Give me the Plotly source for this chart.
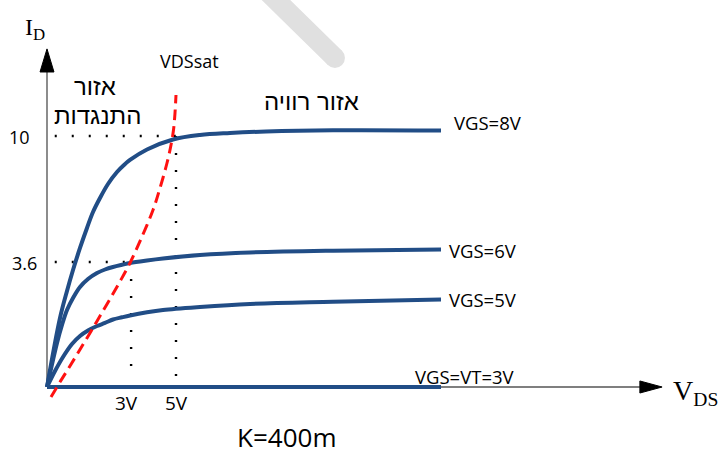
import plotly.graph_objects as go

# ---- data (diagram units: x ~ VDS, y ~ ID, schematic scale) ----
vgs8_x = [0, 0.504, 0.775, 1.008, 1.279, 1.550, 1.783, 2.054, 2.364, 2.713, 2.984, 3.217,
          3.876, 4.884, 5.930, 7.093, 8.488, 11.085, 15.271]
vgs8_y = [0, 2.749, 3.825, 4.661, 5.538, 6.335, 6.972, 7.530, 8.088, 8.566, 8.845, 9.044,
          9.462, 9.861, 10.040, 10.120, 10.179, 10.227, 10.219]

vgs6_x = [0, 0.388, 0.581, 0.775, 1.008, 1.279, 1.589, 1.938, 2.248, 2.558, 2.907, 3.217,
          3.876, 4.496, 5.930, 7.868, 11.085, 15.271]
vgs6_y = [0, 1.753, 2.470, 3.068, 3.546, 3.984, 4.303, 4.542, 4.681, 4.781, 4.869, 4.940,
          5.040, 5.120, 5.259, 5.359, 5.430, 5.478]

vgs5_x = [0, 0.310, 0.620, 0.969, 1.279, 1.589, 1.938, 2.248, 2.558, 2.907, 3.217, 3.876,
          4.496, 5.930, 7.868, 11.085, 15.271]
vgs5_y = [0, 0.637, 1.195, 1.713, 2.032, 2.251, 2.430, 2.551, 2.689, 2.777, 2.849, 2.976,
          3.068, 3.187, 3.307, 3.394, 3.486]

vgs3_x = [0, 15.271]
vgs3_y = [0, 0]

sat_x = [0.155, 0.504, 0.891, 1.279, 1.667, 2.054, 2.442, 2.829, 3.217, 3.643, 4.109, 4.380,
         4.651, 4.806, 4.903, 4.961, 5.000]
sat_y = [-0.398, 0.199, 0.837, 1.494, 2.151, 2.829, 3.506, 4.203, 4.940, 5.896, 7.052, 7.928,
         8.924, 9.641, 10.239, 10.916, 11.633]

curve_labels = ["VGS=8V", "VGS=6V", "VGS=5V", "VGS=VT=3V"]

id_mark_labels = ["10", "3.6"]
id_mark_pos = [10.0, 4.98]
vds_mark_labels = ["3V", "5V"]
vds_mark_pos = [3.26, 5.0]

region_labels = ["אזור", "התנגדות", "אזור רוויה"]

# ---- figure ----
BLUE = "#214d86"
SANS = "Open Sans, Liberation Sans, DejaVu Sans, sans-serif"
HEB = "Liberation Sans, Arial, DejaVu Sans, sans-serif"
SERIF = "Liberation Serif, DejaVu Serif, serif"

fig = go.Figure()

# guide dotted lines
guide_style = dict(color="black", width=2.4, dash="2px,15px")
for xm, ym in [(vds_mark_pos[1], id_mark_pos[0]), (vds_mark_pos[0], id_mark_pos[1])]:
    fig.add_trace(go.Scatter(x=[0.3, xm], y=[ym, ym], mode="lines", line=guide_style, hoverinfo="skip"))
    fig.add_trace(go.Scatter(x=[xm, xm], y=[ym, 0.3], mode="lines", line=guide_style, hoverinfo="skip"))

# axes
fig.add_trace(go.Scatter(x=[0, 22.98], y=[0, 0], mode="lines",
                         line=dict(color="black", width=1.2), hoverinfo="skip"))
fig.add_trace(go.Scatter(x=[0, 0], y=[0, 12.6], mode="lines",
                         line=dict(color="#707070", width=1.6), hoverinfo="skip"))

# watermark stroke
fig.add_shape(type="line", x0=8.1, y0=16.2, x1=11.16, y1=13.11,
              line=dict(color="#e0e0e0", width=20), layer="below")
fig.add_shape(type="circle", x0=11.16 - 0.388, x1=11.16 + 0.388, y0=13.11 - 0.398, y1=13.11 + 0.398,
              line=dict(width=0), fillcolor="#e0e0e0", layer="below")

# arrow heads
fig.add_shape(type="path", path="M 22.98 -0.24 L 23.84 0 L 22.98 0.24 Z",
              fillcolor="black", line=dict(color="black", width=1))
fig.add_shape(type="path", path="M -0.27 12.55 L 0 13.47 L 0.27 12.55 Z",
              fillcolor="black", line=dict(color="black", width=1))

# curves
for xs, ys in [(vgs8_x, vgs8_y), (vgs6_x, vgs6_y), (vgs5_x, vgs5_y), (vgs3_x, vgs3_y)]:
    fig.add_trace(go.Scatter(x=xs, y=ys, mode="lines",
                             line=dict(color=BLUE, width=4, shape="spline", smoothing=1.0),
                             hoverinfo="skip"))

# saturation boundary
fig.add_trace(go.Scatter(x=sat_x, y=sat_y, mode="lines",
                         line=dict(color="#ff1111", width=3, dash="11px,6px", shape="spline", smoothing=1.0),
                         hoverinfo="skip"))

ann = []
# curve labels
lab_pos = [(15.70, 10.54), (15.50, 5.42), (15.50, 3.47), (14.19, 0.42)]
for t, (x, y) in zip(curve_labels, lab_pos):
    ann.append(dict(x=x, y=y, text=t, xanchor="left", yanchor="middle", showarrow=False,
                    font=dict(family=SANS, size=18.5, color="black")))

# tick labels
for t, v, sh in zip(id_mark_labels, id_mark_pos, [-7, 0]):
    ann.append(dict(x=-0.3, y=v, text=t, xanchor="right", yanchor="middle", xshift=sh, yshift=-1,
                    showarrow=False, font=dict(family=SANS, size=18, color="black")))
for t, v, sh in zip(vds_mark_labels, vds_mark_pos, [-5, 0]):
    ann.append(dict(x=v, y=-0.64, text=t, xanchor="center", yanchor="middle", xshift=sh,
                    showarrow=False, font=dict(family=SANS, size=19, color="black")))

# region labels
for t, x, y in zip(region_labels, [1.86, 1.94, 10.27], [11.99, 10.80, 11.39]):
    ann.append(dict(x=x, y=y, text=t, xanchor="center", yanchor="middle", showarrow=False,
                    font=dict(family=HEB, size=24, color="black")))

ann.append(dict(x=5.54, y=12.99, text="VDSsat", showarrow=False, xanchor="center", yanchor="middle",
                font=dict(family=SANS, size=18, color="black")))
ann.append(dict(x=9.30, y=-1.99, text="K=400m", showarrow=False, xanchor="center", yanchor="middle",
                font=dict(family=SANS, size=26, color="black")))
ann.append(dict(x=-0.47, y=14.26, text="I<sub>D</sub>", showarrow=False, xanchor="center", yanchor="middle",
                font=dict(family=SERIF, size=24, color="black")))
ann.append(dict(x=25.12, y=-0.2, text="V<sub>DS</sub>", showarrow=False, xanchor="center", yanchor="middle",
                font=dict(family=SERIF, size=28, color="black")))

fig.update_layout(
    width=724, height=457,
    margin=dict(l=0, r=0, t=0, b=0),
    paper_bgcolor="white", plot_bgcolor="white",
    showlegend=False,
    xaxis=dict(range=[-1.8217, 26.240], visible=False, fixedrange=True),
    yaxis=dict(range=[-2.789, 15.418], visible=False, fixedrange=True),
    annotations=ann,
)

fig.write_html("out.html", config={"displayModeBar": False},
               post_script="document.body.style.margin='0';")
